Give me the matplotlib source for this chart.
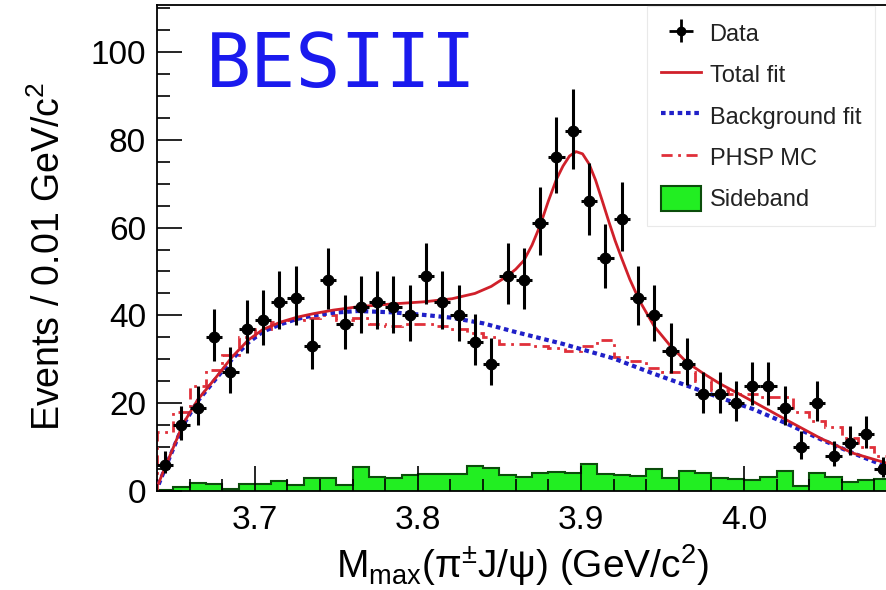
import numpy as np
import matplotlib
matplotlib.use("Agg")
import matplotlib.pyplot as plt
from matplotlib.ticker import MultipleLocator
from matplotlib.patches import Patch
from matplotlib.lines import Line2D

plt.rcParams['font.family'] = ['Liberation Sans', 'DejaVu Sans']
plt.rcParams['mathtext.fontset'] = 'custom'
plt.rcParams['mathtext.rm'] = 'Liberation Sans'
plt.rcParams['mathtext.it'] = 'Liberation Sans:italic'
plt.rcParams['mathtext.bf'] = 'Liberation Sans:bold'

# Binning: 0.01 GeV/c^2 bins from 3.64 to 4.09
bin_edges = np.round(np.arange(3.64, 4.0901, 0.01), 3)
bin_centers = bin_edges[:-1] + 0.005

# Data counts per bin
counts = [6, 15, 19, 35, 27, 37, 39, 43, 44, 33,
          48, 38, 42, 43, 42, 40, 49, 43, 40, 34,
          29, 49, 48, 61, 76, 82, 66, 53, 62, 44,
          40, 32, 29, 22, 22, 20, 24, 24, 19, 10,
          20, 8, 11, 13, 5]

# Sideband histogram
sideband = [0.3, 0.8, 1.8, 1.5, 0.5, 1.7, 1.5, 2.3, 1.4, 3.0,
            2.9, 1.4, 5.5, 3.2, 3.0, 3.6, 3.9, 3.9, 3.9, 5.6,
            5.3, 3.7, 3.1, 4.0, 4.3, 4.2, 6.2, 3.8, 3.6, 3.4,
            4.9, 2.9, 4.6, 4.0, 3.0, 2.8, 2.4, 3.3, 4.6, 1.2,
            4.1, 3.2, 2.1, 2.5, 2.8]

# Phase space MC histogram
phsp = [13.5, 18, 24, 27.5, 31, 35, 37, 38.5, 39, 39.5,
        40, 39, 39.5, 38, 37.5, 38, 38, 37.5, 37, 36,
        35, 33.5, 33.5, 33, 32.5, 32, 33, 34.5, 30.5, 29.5,
        28, 27, 27, 25, 23, 22, 22, 21.5, 21.5, 18,
        16, 14.5, 12, 10, 8]

# Background fit curve
bkg_x = [3.641, 3.647, 3.656, 3.665, 3.676, 3.686, 3.696, 3.705, 3.716, 3.726,
         3.736, 3.748, 3.763, 3.784, 3.804, 3.820, 3.840, 3.859, 3.889, 3.920,
         3.944, 3.965, 3.985, 4.006, 4.026, 4.047, 4.067, 4.088, 4.100]
bkg_y = [1.5, 7.0, 15.0, 20.5, 25.5, 30.0, 33.8, 36.3, 38.0, 39.2,
         40.0, 40.6, 41.0, 40.7, 40.1, 39.5, 38.2, 36.3, 33.5, 30.2,
         26.8, 24.0, 21.3, 18.6, 15.4, 11.8, 8.6, 5.5, 3.8]

# Total fit curve
tot_x = [3.641, 3.647, 3.656, 3.665, 3.676, 3.686, 3.696, 3.705, 3.716, 3.726,
         3.736, 3.748, 3.764, 3.784, 3.804, 3.821, 3.835, 3.845, 3.850, 3.855,
         3.860, 3.865, 3.870, 3.875, 3.880, 3.885, 3.889, 3.893, 3.897, 3.901,
         3.905, 3.909, 3.913, 3.917, 3.921, 3.925, 3.930, 3.936, 3.945, 3.955,
         3.965, 3.975, 3.985, 4.006, 4.026, 4.047, 4.067, 4.088, 4.100]
tot_y = [1.8, 7.2, 15.3, 20.8, 25.8, 30.5, 34.4, 36.8, 38.5, 39.6,
         40.4, 41.2, 42.0, 42.6, 43.1, 43.8, 45.0, 46.6, 47.8, 49.0,
         50.5, 52.5, 56.0, 60.5, 66.0, 71.0, 74.0, 76.3, 77.3, 76.8,
         74.5, 70.8, 66.2, 61.5, 57.0, 53.0, 48.2, 43.3, 37.5, 33.0,
         29.3, 26.8, 24.5, 20.3, 16.2, 12.0, 8.6, 6.3, 5.0]

# Poisson-style asymmetric errors on the counts
n = np.array(counts, dtype=float)
err_lo = np.sqrt(n + 0.25) - 0.5
err_hi = np.sqrt(n + 0.25) + 0.5

fig = plt.figure(figsize=(8.87, 5.90), dpi=100)
ax = fig.add_axes([157/887, 99/590, 750/887, 486/590])

ax.stairs(sideband, bin_edges, fill=True, color='#22ee22', zorder=1)
ax.stairs(sideband, bin_edges, color='#0b4d0b', lw=1.5, zorder=1.5)
ax.stairs(phsp, bin_edges, color='#e0303a', lw=2, linestyle=(0, (4, 2, 1, 2)), zorder=2)
ax.plot(bkg_x, bkg_y, color='#2020c8', lw=3, linestyle=(0, (1.1, 0.9)), zorder=3)
ax.plot(tot_x, tot_y, color='#d0202a', lw=2, zorder=4)
ax.errorbar(bin_centers, counts, xerr=0.005, yerr=[err_lo, err_hi], fmt='o',
            color='black', ms=7.5, elinewidth=2.2, capsize=0, zorder=5)

ax.set_xlim(3.64, 4.10)
ax.set_ylim(0, 110.7)
ax.xaxis.set_major_locator(MultipleLocator(0.1))
ax.xaxis.set_minor_locator(MultipleLocator(0.02))
ax.yaxis.set_major_locator(MultipleLocator(20))
ax.yaxis.set_minor_locator(MultipleLocator(5))
ax.set_xticks([3.7, 3.8, 3.9, 4.0])
ax.set_xticklabels(['3.7', '3.8', '3.9', '4.0'])
ax.tick_params(which='both', direction='in', top=False, right=False, labelsize=24, width=1.2)
ax.tick_params(which='major', length=18)
ax.tick_params(which='minor', length=9)
ax.tick_params(axis='y', pad=8)
ax.tick_params(axis='x', pad=10)
for s in ax.spines.values():
    s.set_linewidth(1.3)
ax.spines['right'].set_visible(False)

ax.set_xlabel('M$_{\\rm max}$(π$^{\\pm}$J/ψ) (GeV/c$^{2}$)', fontsize=28)
ax.xaxis.set_label_coords(0.487, -0.105)
ax.set_ylabel('Events / 0.01 GeV/c$^{2}$', fontsize=27)
ax.yaxis.set_label_coords(-0.118, 0.483)

fig.text(206/887, 1 - 87/590, 'BESIII', fontsize=54, color='#1a1aee',
         family='DejaVu Sans Mono', va='baseline', ha='left')

# Legend
h_data = ax.errorbar([], [], xerr=1, yerr=1, fmt='o', color='black', ms=6,
                     elinewidth=2, capsize=0)
h_tot = Line2D([], [], color='#d0202a', lw=2)
h_bkg = Line2D([], [], color='#2020c8', lw=3, linestyle=(0, (1.1, 0.9)))
h_phsp = Line2D([], [], color='#e0303a', lw=2, linestyle=(0, (4, 2, 1, 2)))
h_sb = Patch(facecolor='#22ee22', edgecolor='#0b4d0b', lw=1.5)
leg = ax.legend([h_data, h_tot, h_bkg, h_phsp, h_sb],
                ['Data', 'Total fit', 'Background fit', 'PHSP MC', 'Sideband'],
                loc='upper left', bbox_to_anchor=(647/887, 1 - 6/590),
                bbox_transform=fig.transFigure, fontsize=17, frameon=True,
                fancybox=False, edgecolor='#e4e4e4', borderaxespad=0,
                handlelength=1.7, handleheight=1.3, handletextpad=0.35,
                labelspacing=0.66, borderpad=0.6)
leg.get_frame().set_linewidth(0.8)
for t in leg.get_texts():
    t.set_color('#222222')

fig.savefig('out.png', dpi=100)
